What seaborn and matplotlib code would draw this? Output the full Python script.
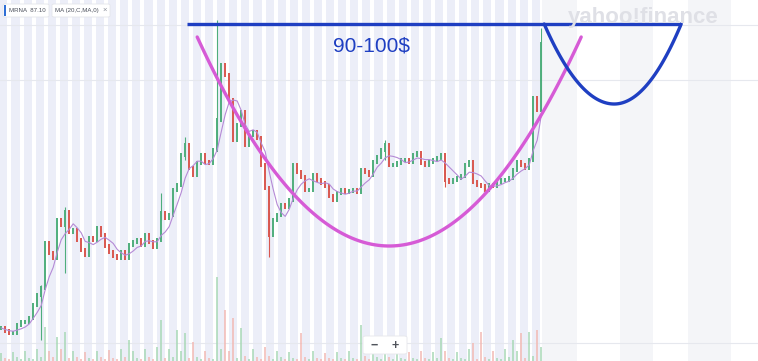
import numpy as np
import pandas as pd
import matplotlib
matplotlib.use("Agg")
import matplotlib.pyplot as plt
import seaborn as sns
from matplotlib.patches import FancyBboxPatch, Rectangle

sns.set_theme(style="white")
plt.rcParams['font.family'] = ['Liberation Sans', 'DejaVu Sans']

# ---------------- data ----------------
ticker = "MRNA"
last_price = 87.10
ma_label = "MA (20,C,MA,0)"
target_label = "90-100$"

close = [16.0, 15.25, 14.75, 14.75, 16.75, 17.5, 17.5, 18.5, 21.75, 24.25,
         26.0, 37.25, 34.75, 33.5, 43.0, 41.75, 45.0, 40.0, 40.5, 38.0,
         35.5, 34.25, 38.5, 38.0, 41.0, 39.25, 36.5, 35.0, 34.0, 33.5,
         35.0, 33.5, 36.75, 37.5, 38.0, 36.75, 39.25, 37.5, 36.25, 38.0,
         44.75, 43.5, 44.25, 50.5, 51.75, 59.25, 61.75, 56.0, 54.25, 57.25,
         59.25, 57.5, 57.25, 60.5, 68.0, 81.75, 79.25, 73.0, 63.0, 66.75,
         70.0, 61.75, 64.25, 65.0, 63.5, 56.75, 51.0, 39.25, 43.0, 44.25,
         46.75, 46.25, 48.0, 56.75, 55.0, 53.75, 50.5, 50.5, 54.25, 53.0,
         52.25, 51.5, 49.0, 48.0, 49.75, 50.5, 50.0, 50.25, 50.5, 50.0,
         55.5, 55.0, 54.25, 57.5, 58.75, 60.5, 61.75, 56.75, 56.75, 57.25,
         58.0, 58.0, 57.5, 59.25, 59.75, 57.25, 56.75, 57.5, 58.0, 58.5,
         59.25, 53.0, 52.5, 53.0, 53.5, 54.0, 56.75, 57.5, 52.5, 51.75,
         51.5, 50.5, 51.75, 51.5, 52.5, 53.0, 53.0, 53.5, 55.5, 57.5,
         56.75, 56.0, 58.0, 73.5, 70.5, 87.1]

# notable wicks: (bar index, low, high)
wick_idx = [10, 16, 40, 46, 54, 67, 96, 111, 135]
wick_low = [13.0, 29.75, 43.0, 58.0, 60.5, 33.75, 58.0, 51.25, 70.0]
wick_high = [26.75, 46.25, 49.75, 63.75, 93.0, 45.0, 63.0, 57.0, 91.0]

volume = [8, 3, 2, 9, 4, 2, 10, 3, 2, 12, 4, 34, 10, 4, 24, 12, 29, 3,
          10, 4, 2, 9, 3, 2, 10, 4, 2, 11, 3, 2, 12, 4, 21, 10, 3, 2,
          12, 4, 2, 14, 41, 3, 12, 4, 31, 10, 28, 3, 19, 4, 2, 10, 3, 2,
          84, 12, 51, 10, 43, 3, 33, 5, 2, 12, 4, 2, 14, 5, 2, 10, 4, 2,
          9, 3, 2, 28, 4, 2, 10, 3, 2, 8, 3, 2, 9, 3, 2, 10, 3, 2,
          36, 5, 2, 12, 4, 2, 14, 4, 2, 10, 3, 2, 9, 3, 2, 10, 3, 2,
          9, 3, 23, 10, 3, 2, 9, 3, 2, 12, 18, 2, 29, 4, 2, 10, 3, 2,
          12, 4, 21, 10, 28, 3, 29, 5, 31, 14]

# hand-drawn annotation control points (bar index, price)
cup_pts = [(49.0, 88.75), (97.0, 36.5), (145.0, 88.75)]      # pink cup
handle_pts = [(135.75, 92.0), (153.25, 72.0), (170.0, 92.0)]  # blue handle
resist_x = [46.5, 170.0]
resist_y = [92.0, 92.0]

# ---------------- figure ----------------
W, H = 758, 361
fig = plt.figure(figsize=(W / 100, H / 100), dpi=100)
ax = fig.add_axes([0, 0, 1, 1])
px_per_bar = 4.0
ax.set_xlim(-0.3, W / px_per_bar - 0.3)
ax.set_ylim(98 - H / 4, 98)
for s in ax.spines.values():
    s.set_visible(False)
ax.set_xticks([]); ax.set_yticks([])

n = len(close)
idx = np.arange(n)
df = pd.DataFrame({"t": idx, "close": close, "vol": volume[:n]})
df["open"] = df["close"].shift(1).fillna(df["close"].iloc[0])
df["up"] = df["close"] >= df["open"]
df["ma"] = df["close"].rolling(5, min_periods=1).mean()

# background day stripes
lav = "#eceef8"
day = 12.1 / px_per_bar
start = -0.6
k = 0
while start + k * day < n - 0.3:
    a = start + k * day + 0.5 / px_per_bar
    b = start + (k + 1) * day - 3.5 / px_per_bar
    ax.axvspan(a, min(b, n - 0.3), color=lav, lw=0, zorder=0)
    k += 1
# future region bands
for a, b in [(542, 577), (620, 653), (688, 731)]:
    ax.axvspan(a / px_per_bar - 0.3, b / px_per_bar - 0.3, color="#f4f5f8", lw=0, zorder=0)

# faint horizontal grid
for ypx in [25, 80, 343]:
    ax.axhline(98 - ypx / 4, color="#e6e8ee", lw=0.8, zorder=0.5)

# volume on twin axis
vax = ax.twinx()
vax.set_ylim(0, H)
vax.set_axis_off()
vcol = np.where(df["up"], "#a8d8b6", "#f2b9b4")
vax.vlines(df["t"], 0, df["vol"], colors=vcol, lw=1.1, zorder=1)

# candles
red, green = "#d9574f", "#4fae7c"
ccol = np.where(df["up"], green, red)
ax.vlines(wick_idx, wick_low, wick_high,
          colors=[ccol[i] for i in wick_idx], lw=0.8, zorder=2)
lo = np.minimum(df["open"], df["close"]) - 0.4
hi = np.maximum(df["open"], df["close"]) + 0.4
ax.vlines(df["t"], lo, hi, colors=ccol, lw=1.4, zorder=3)

# moving average
sns.lineplot(data=df, x="t", y="ma", ax=ax, color="#b58ad6", lw=0.8,
             zorder=3.5, legend=False)

# annotation curves
def quad(pts, num=120):
    (x0, y0), (xv, yv), (x1, y1) = pts
    xs = np.linspace(x0, x1, num)
    left = xs <= xv
    ys = np.where(left,
                  yv + (y0 - yv) * ((xs - xv) / (x0 - xv)) ** 2,
                  yv + (y1 - yv) * ((xs - xv) / (x1 - xv)) ** 2)
    return pd.DataFrame({"x": xs, "y": ys})

sns.lineplot(data=quad(cup_pts), x="x", y="y", ax=ax, color="#d65bd6",
             lw=2.4, sort=False, zorder=5, legend=False)
sns.lineplot(data=quad(handle_pts), x="x", y="y", ax=ax, color="#1f3fc2",
             lw=2.4, sort=False, zorder=5, legend=False)
ax.plot(resist_x, resist_y, color="#1f3fc2", lw=2.4, zorder=5,
        solid_capstyle="butt")
ax.text(92.5, 86.6, target_label, color="#1f3fc2", fontsize=15,
        ha="center", va="center", zorder=6)
ax.set_xlabel(""); ax.set_ylabel("")

# watermark
fig.text(643 / W, 1 - 18 / H, "yahoo!finance", color="#dfe0e6", fontsize=16,
         fontweight="bold", ha="center", va="center")

# top-left label boxes
def fx(x): return x / W
def fy(y): return 1 - y / H

for (x0, x1) in [(3, 49), (52, 110)]:
    fig.patches.append(FancyBboxPatch((fx(x0), fy(17)), fx(x1) - fx(x0), fy(4) - fy(17),
                                      boxstyle="round,pad=0,rounding_size=0.003",
                                      transform=fig.transFigure, fc="white",
                                      ec="#e3e5ea", lw=0.6, zorder=10))
fig.patches.append(Rectangle((fx(4), fy(16)), fx(6) - fx(4), fy(5) - fy(16),
                             transform=fig.transFigure, fc="#2f6fd6", lw=0, zorder=11))
fig.text(fx(9), fy(10.5), f"{ticker}  {last_price:.2f}", fontsize=4.4, color="#4a4f5a",
         ha="left", va="center", zorder=12)
fig.text(fx(55), fy(10.5), ma_label, fontsize=4.4, color="#4a4f5a",
         ha="left", va="center", zorder=12)
fig.text(fx(104.5), fy(10.5), "×", fontsize=5.5, color="#8a8f99",
         ha="center", va="center", zorder=12)

# zoom control
fig.patches.append(FancyBboxPatch((fx(363), fy(354)), fx(407) - fx(363), fy(336) - fy(354),
                                  boxstyle="round,pad=0,rounding_size=0.004",
                                  transform=fig.transFigure, fc="white",
                                  ec="#e6e7eb", lw=0.6, zorder=10))
fig.text(fx(374), fy(345.5), "−", fontsize=9, color="#50545c", ha="center",
         va="center", fontweight="bold", zorder=12)
fig.text(fx(395), fy(345.5), "+", fontsize=9, color="#50545c", ha="center",
         va="center", fontweight="bold", zorder=12)

fig.savefig("out.png", dpi=100)
